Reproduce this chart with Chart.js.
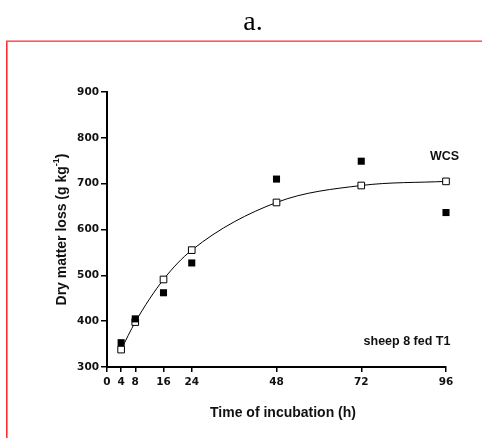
<!DOCTYPE html>
<html>
<head>
<meta charset="utf-8">
<script src="https://cdn.jsdelivr.net/npm/chart.js@4.4.1/dist/chart.umd.min.js"></script>
<style>
  html, body { margin: 0; padding: 0; background: #fff; }
  #wrap { position: absolute; left: 0; top: 0; width: 482px; height: 438px; }
</style>
</head>
<body>
<div id="wrap"><canvas id="myChart" width="482" height="438"></canvas></div>
<script>
// incubation times (h) and dry matter loss (g/kg)
const times = [4, 8, 16, 24, 48, 72, 96];
const observed = [353, 405, 462, 527, 710, 749, 637];
const fitted = [338, 398, 491, 555, 659, 696, 705];
const xTicks = [0, 4, 8, 16, 24, 48, 72, 96];
const yTicks = [300, 400, 500, 600, 700, 800, 900];

const panelTitle = "a.";
const seriesLabel = "WCS";
const panelNote = "sheep 8 fed T1";
const xTitle = "Time of incubation (h)";
const yTitle = ["Dry matter loss (g kg", "-1", ")"];

const sans = 'Arial, "Liberation Sans", sans-serif';
const tickFont = '"DejaVu Sans", sans-serif';

const textPlugin = {
    id: "texts",
    beforeDraw(chart) {
        const ctx = chart.ctx;
        ctx.save();
        // red frame, left and top only
        ctx.fillStyle = "#ff2a2a";
        ctx.fillRect(6, 40, 1, 398);
        ctx.fillStyle = "#ff8a8a";
        ctx.fillRect(7, 41, 1, 397);
        ctx.fillStyle = "#ff9a9a";
        ctx.fillRect(6, 40, 476, 1);
        ctx.fillStyle = "#ff5a5a";
        ctx.fillRect(7, 41, 475, 1);
        ctx.restore();
    },
    afterDraw(chart) {
        const ctx = chart.ctx;
        const area = chart.chartArea;
        ctx.save();
        ctx.fillStyle = "#000";

        // panel letter
        ctx.font = '28px "Liberation Serif", "Times New Roman", serif';
        ctx.textAlign = "center";
        ctx.textBaseline = "alphabetic";
        ctx.fillText(panelTitle, 253, 30);

        ctx.fillStyle = "#111";
        // x title
        ctx.font = "bold 14px " + sans;
        ctx.textBaseline = "middle";
        ctx.fillText(xTitle, 283, 413);

        // y title with superscript
        ctx.translate(62, (area.top + area.bottom) / 2);
        ctx.rotate(-Math.PI / 2);
        const big = "bold 14px " + sans;
        const small = "bold 9px " + sans;
        ctx.font = big;
        const w1 = ctx.measureText(yTitle[0]).width;
        const w3 = ctx.measureText(yTitle[2]).width;
        ctx.font = small;
        const w2 = ctx.measureText(yTitle[1]).width;
        let x = -(w1 + w2 + w3) / 2;
        ctx.textAlign = "left";
        ctx.font = big;
        ctx.fillText(yTitle[0], x, 0);
        x += w1;
        ctx.font = small;
        ctx.fillText(yTitle[1], x, -5);
        x += w2;
        ctx.font = big;
        ctx.fillText(yTitle[2], x, 0);
        ctx.restore();

        ctx.save();
        ctx.fillStyle = "#111";
        ctx.font = "bold 12.5px " + sans;
        ctx.textBaseline = "middle";
        ctx.textAlign = "left";
        ctx.fillText(seriesLabel, 430, 157);
        ctx.textAlign = "center";
        ctx.fillText(panelNote, 407, 342);
        ctx.restore();
    }
};

new Chart(document.getElementById("myChart").getContext("2d"), {
    type: "scatter",
    data: {
        datasets: [
            {
                label: "observed",
                data: times.map((t, i) => ({x: t, y: observed[i]})),
                showLine: false,
                pointStyle: "rect",
                pointRadius: 5,
                pointBackgroundColor: "#000",
                pointBorderColor: "#000",
                pointBorderWidth: 0,
                clip: false,
                order: 0
            },
            {
                label: "fitted",
                data: times.map((t, i) => ({x: t, y: fitted[i]})),
                showLine: true,
                borderColor: "#000",
                borderWidth: 1,
                cubicInterpolationMode: "monotone",
                pointStyle: "rect",
                pointRadius: 4.7,
                pointBackgroundColor: "#fff",
                pointBorderColor: "#000",
                pointBorderWidth: 1,
                clip: false,
                order: 1
            }
        ]
    },
    options: {
        responsive: false,
        devicePixelRatio: 1,
        animation: false,
        layout: {padding: {left: 0, top: 92, right: 36, bottom: 0}},
        plugins: {
            legend: {display: false},
            title: {display: false},
            tooltip: {enabled: false}
        },
        scales: {
            x: {
                type: "linear",
                min: 0,
                max: 96,
                afterBuildTicks: (axis) => { axis.ticks = xTicks.map(v => ({value: v})); },
                afterFit: (scale) => { scale.height = 71; },
                grid: {drawOnChartArea: false, drawTicks: true, tickLength: 5, color: "#000", lineWidth: 1.5},
                border: {color: "#000", width: 2},
                ticks: {
                    color: "#111",
                    padding: 4,
                    maxRotation: 0,
                    autoSkip: false,
                    font: {family: tickFont, size: 10.5, weight: "bold"}
                }
            },
            y: {
                type: "linear",
                min: 300,
                max: 900,
                afterBuildTicks: (axis) => { axis.ticks = yTicks.map(v => ({value: v})); },
                afterFit: (scale) => { scale.width = 107; },
                grid: {drawOnChartArea: false, drawTicks: true, tickLength: 6, color: "#000", lineWidth: 1.5},
                border: {color: "#000", width: 2},
                ticks: {
                    color: "#111",
                    padding: 2,
                    font: {family: tickFont, size: 10.5, weight: "bold"}
                }
            }
        }
    },
    plugins: [textPlugin]
});
</script>
</body>
</html>
